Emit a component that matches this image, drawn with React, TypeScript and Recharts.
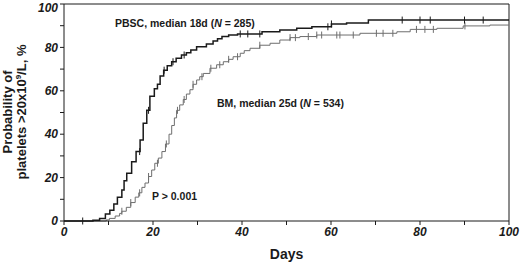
import React from "react";
import {
  ComposedChart,
  Line,
  Scatter,
  XAxis,
  YAxis,
  ReferenceLine,
} from "recharts";

// Kaplan-Meier steps: [day, % with platelets > 20x10^9/L]
const pbscSteps: [number, number][] = [
  [0, 0], [6.5, 0.4], [8, 1.2], [9.3, 3.2], [10.3, 5], [11.2, 7.8], [12, 10.9],
  [13, 14.3], [13.5, 18.6], [14.1, 22], [15.2, 27.3], [16.2, 32], [17.1, 37.3],
  [17.8, 45], [18.6, 51], [19.3, 57.5], [20.3, 61], [21, 63], [21.6, 66.8],
  [22.4, 69.5], [23.2, 71.5], [24.2, 73.4], [25.2, 75], [26.4, 76.5], [27.5, 77.5],
  [28.5, 78.8], [29.8, 80.3], [32, 81.6], [33.5, 83], [34.5, 84], [35.5, 85],
  [37, 85.7], [39, 86.2], [44.5, 87.2], [48.5, 88], [52.3, 88.8], [55.7, 89.5],
  [60.1, 90.8], [63.5, 91.2], [68.4, 92.6], [100, 92.6],
];

const bmSteps: [number, number][] = [
  [0, 0], [9.5, 0.5], [10.2, 1.2], [11.5, 2.3], [12.5, 3.5], [13, 4.5], [14, 6.3],
  [15, 8.5], [16, 11], [16.8, 13], [17.5, 15.5], [18.2, 17.5], [19, 20.5],
  [19.7, 23.5], [20.4, 26.6], [21.2, 29], [22, 32], [22.8, 35.5], [23.6, 40],
  [24.2, 44], [24.8, 47.5], [25.3, 51], [26, 53.5], [26.8, 56], [27.5, 58.5],
  [28.3, 60.5], [29, 63], [29.8, 65], [30.5, 66.5], [31.3, 68], [32.8, 70.4],
  [34.3, 72], [35.8, 73.4], [37, 74.5], [38, 75.7], [39.6, 77.3], [40.5, 78.5],
  [41.8, 79.6], [44, 81], [46.3, 81.9], [48.5, 83.4], [50.8, 84.5], [53, 85],
  [56.8, 85.7], [66.5, 86.5], [74.8, 87.2], [77.8, 88.3], [83.8, 88.8],
  [89.7, 89.9], [95.7, 90.3], [100, 90.3],
];

// censored observations (days)
const pbscCensored = [4.2, 17, 19, 22.5, 24.5, 27, 39.6, 41.3, 44, 59.3, 60.1, 76, 80, 82.3, 90, 94.2];
const bmCensored = [
  13, 15, 17, 19, 21, 23, 25.5, 27, 29, 31, 33, 35, 37, 39, 44, 50.8, 52, 54.9,
  56.8, 57.9, 61.3, 62, 65, 70.2, 71.7, 73.9, 79.2, 81.1, 83, 90.1,
];

const xTicks = [0, 10, 20, 30, 40, 50, 60, 70, 80, 90, 100];
const yTicks = [0, 10, 20, 30, 40, 50, 60, 70, 80, 90, 100];

const toRows = (steps: [number, number][]) => steps.map(([day, value]) => ({ day, value }));

// value of a step curve at a given day
const stepAt = (steps: [number, number][], d: number) => {
  let v = 0;
  for (const [day, value] of steps) {
    if (day <= d) v = value;
  }
  return v;
};

const censorRows = (steps: [number, number][], days: number[]) =>
  days.map((day) => ({ day, value: stepAt(steps, day) }));

const FONT = "'Liberation Sans', Arial, sans-serif";
const INK = "#1a1a1a";
const GRAY = "#6e6e6e";

const CensorMark = (color: string) => (props: any) => {
  const { cx, cy } = props;
  if (cx == null || cy == null) return <g />;
  return <line x1={cx} x2={cx} y1={cy - 3.5} y2={cy + 3.5} stroke={color} strokeWidth={1} />;
};

const YLabel = () => (
  <text
    transform="translate(18,112) rotate(-90)"
    textAnchor="middle"
    fontFamily={FONT}
    fontWeight="bold"
    fontSize={13}
    fill={INK}
  >
    <tspan x={0} dy={-6}>Probability of</tspan>
    <tspan x={0} dy={14}>
      platelets &gt;20x10
      <tspan fontSize={8} dy={-5}>9</tspan>
      <tspan dy={5}>/L, %</tspan>
    </tspan>
  </text>
);

const App = () => {
  const tickStyle = {
    fontFamily: FONT,
    fontWeight: "bold" as const,
    fontStyle: "italic" as const,
    fontSize: 12,
    fill: INK,
  };

  return (
    <div style={{ position: "absolute", left: 0, top: 0, background: "#fff" }}>
      <ComposedChart
        width={520}
        height={265}
        margin={{ top: 4, right: 11, left: 0, bottom: 0 }}
      >
        <XAxis
          type="number"
          dataKey="day"
          domain={[0, 100]}
          ticks={xTicks}
          tickFormatter={(v: number) => (v % 20 === 0 ? String(v) : "")}
          tick={tickStyle}
          tickSize={4}
          height={44}
          stroke={INK}
          allowDuplicatedCategory={false}
          label={{
            value: "Days",
            position: "insideBottom",
            offset: 6,
            style: { fontFamily: FONT, fontWeight: "bold", fontSize: 14, fill: INK },
          }}
        />
        <YAxis
          type="number"
          dataKey="value"
          domain={[0, 100]}
          ticks={yTicks}
          tickFormatter={(v: number) => (v % 20 === 0 ? String(v) : "")}
          tick={tickStyle}
          tickSize={4}
          width={64}
          stroke={INK}
          label={<YLabel />}
        />
        <ReferenceLine y={100} stroke={INK} strokeWidth={1} />
        <ReferenceLine x={100} stroke={INK} strokeWidth={1} />
        <Line
          data={toRows(bmSteps)}
          dataKey="value"
          type="stepAfter"
          stroke={GRAY}
          strokeWidth={1}
          dot={false}
          isAnimationActive={false}
        />
        <Line
          data={toRows(pbscSteps)}
          dataKey="value"
          type="stepAfter"
          stroke={INK}
          strokeWidth={1.5}
          dot={false}
          isAnimationActive={false}
        />
        <Scatter
          data={censorRows(bmSteps, bmCensored)}
          dataKey="value"
          shape={CensorMark(GRAY)}
          isAnimationActive={false}
        />
        <Scatter
          data={censorRows(pbscSteps, pbscCensored)}
          dataKey="value"
          shape={CensorMark(INK)}
          isAnimationActive={false}
        />
        <text x={115} y={27} fontFamily={FONT} fontWeight="bold" fontSize={10.5} fill={INK}>
          PBSC, median 18d (<tspan fontStyle="italic">N</tspan> = 285)
        </text>
        <text x={217} y={107} fontFamily={FONT} fontWeight="bold" fontSize={10.5} fill={INK}>
          BM, median 25d (<tspan fontStyle="italic">N</tspan> = 534)
        </text>
        <text x={152} y={200} fontFamily={FONT} fontWeight="bold" fontSize={10.5} fill={INK}>
          P &gt; 0.001
        </text>
      </ComposedChart>
    </div>
  );
};

export default App;
